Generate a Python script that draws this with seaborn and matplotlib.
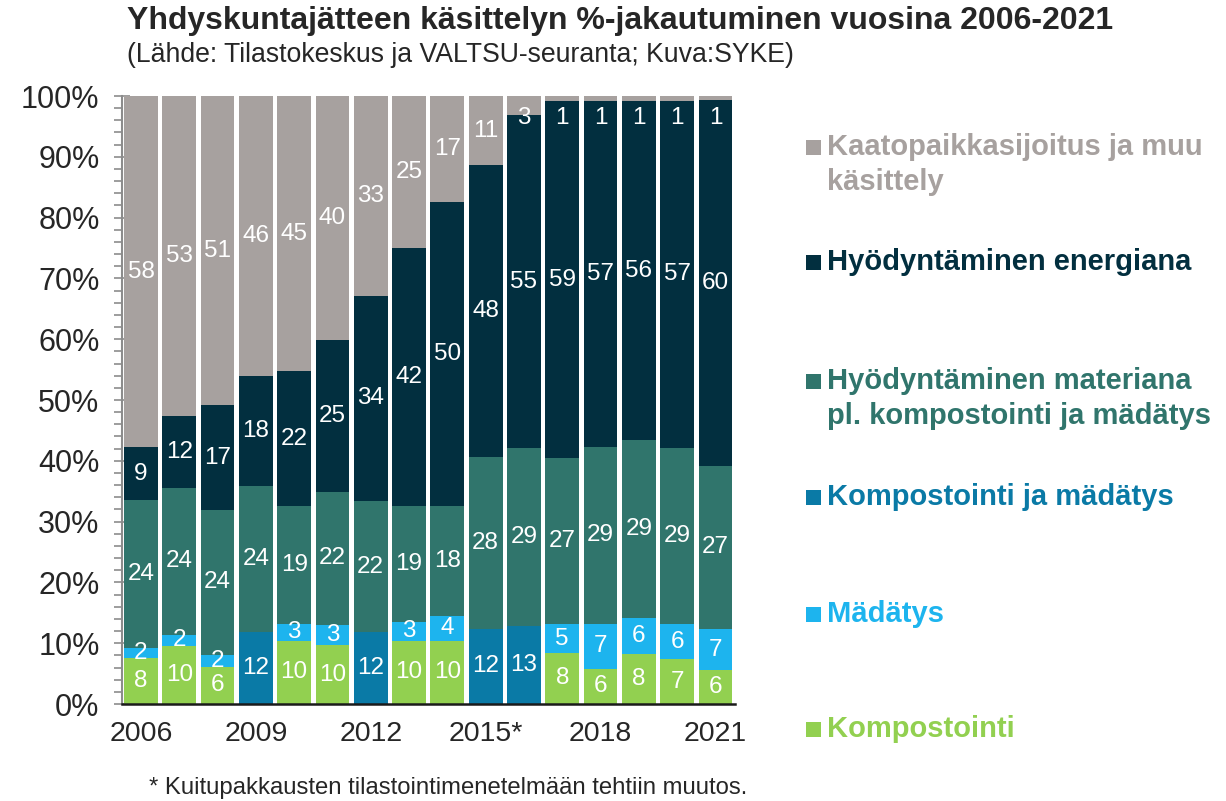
import matplotlib
matplotlib.use("Agg")
import matplotlib.pyplot as plt
from matplotlib.patches import Rectangle
from matplotlib.ticker import MultipleLocator
import seaborn as sns

# values (% of municipal waste)
years = ["2006", "2007", "2008", "2009", "2010", "2011", "2012", "2013",
         "2014", "2015", "2016", "2017", "2018", "2019", "2020", "2021"]
year_ticks = ["2006", "2009", "2012", "2015*", "2018", "2021"]
kompostointi = [7.6, 9.6, 6.1, 0, 10.4, 9.7, 0, 10.4, 10.4, 0, 0, 8.4, 5.8, 8.2, 7.4, 5.6]
madatys = [1.6, 1.7, 2.0, 0, 2.8, 3.3, 0, 3.1, 4.1, 0, 0, 4.7, 7.4, 5.9, 5.7, 6.7]
komp_ja_mad = [0, 0, 0, 11.9, 0, 0, 11.8, 0, 0, 12.4, 12.8, 0, 0, 0, 0, 0]
materiana = [24.4, 24.3, 23.8, 24.0, 19.4, 21.9, 21.6, 19.1, 18.1, 28.2, 29.3, 27.4, 29.1, 29.3, 29.0, 26.9]
energiana = [8.6, 11.7, 17.2, 18.0, 22.1, 24.9, 33.7, 42.4, 50.0, 48.0, 54.7, 58.6, 56.9, 55.7, 57.1, 60.1]
kaatopaikka = [57.8, 52.7, 50.9, 46.1, 45.3, 40.2, 32.9, 25.0, 17.4, 11.4, 3.2, 0.9, 0.8, 0.9, 0.8, 0.7]

series = [
    (["Kompostointi"], kompostointi, "#92D050"),
    (["Mädätys"], madatys, "#1DB4EE"),
    (["Kompostointi ja mädätys"], komp_ja_mad, "#0A7AA6"),
    (["Hyödyntäminen materiana", "pl. kompostointi ja mädätys"], materiana, "#30756C"),
    (["Hyödyntäminen energiana"], energiana, "#022F3F"),
    (["Kaatopaikkasijoitus ja muu", "käsittely"], kaatopaikka, "#A7A19F"),
]

sns.set_style("white")
plt.rcParams["font.family"] = ["Liberation Sans", "DejaVu Sans"]

W, H = 1226, 801
fig = plt.figure(figsize=(W / 100, H / 100), dpi=100)
ax = fig.add_axes([121.8 / W, (H - 704) / H, (734.6 - 121.8) / W, (704 - 96) / H])

# cumulative tops, drawn from the highest layer down so lower layers sit on top
bottoms = []
running = [0.0] * len(years)
for _, vals, _ in series:
    bottoms.append(list(running))
    running = [r + v for r, v in zip(running, vals)]

for i in range(len(series) - 1, -1, -1):
    label, vals, color = series[i]
    tops = [b + v for b, v in zip(bottoms[i], vals)]
    sns.barplot(x=years, y=tops, color=color, saturation=1, width=0.88,
                linewidth=0, ax=ax)

# value labels
for i, (label, vals, color) in enumerate(series):
    for j, v in enumerate(vals):
        if v <= 0:
            continue
        yc = min(bottoms[i][j] + v / 2, 96.3)
        ax.text(j, yc, f"{round(v)}", ha="center", va="center",
                color="white", fontsize=17.5)

ax.set_ylim(0, 100)
ax.set_xlim(-0.5, 15.5)
ax.set_xticks([0, 3, 6, 9, 12, 15])
ax.set_xticklabels(year_ticks)
ax.set_yticks(range(0, 101, 10))
ax.set_yticklabels([f"{t}%" for t in range(0, 101, 10)])
ax.yaxis.set_minor_locator(MultipleLocator(2))
ax.tick_params(axis="y", which="major", direction="inout", length=12,
               width=1.2, color="#8C8C8C", labelsize=22, pad=10, left=True)
ax.tick_params(axis="y", which="minor", direction="out", length=5.5,
               width=1.2, color="#8C8C8C", left=True)
ax.tick_params(axis="x", length=0, labelsize=20.5, pad=12)
ax.set_xlabel("")
ax.set_ylabel("")
for s in ["top", "right"]:
    ax.spines[s].set_visible(False)
ax.spines["left"].set_color("#8C8C8C")
ax.spines["left"].set_linewidth(1.5)
ax.spines["bottom"].set_color("#1A1A1A")
ax.spines["bottom"].set_linewidth(1.8)

# titles and footnote
fig.text(127 / W, 1 - 29 / H, "Yhdyskuntajätteen käsittelyn %-jakautuminen vuosina 2006-2021",
         fontsize=23, fontweight="bold", ha="left", va="baseline")
fig.text(127 / W, 1 - 62 / H, "(Lähde: Tilastokeskus ja VALTSU-seuranta; Kuva:SYKE)",
         fontsize=19.2, ha="left", va="baseline")
fig.text(149 / W, 1 - 794 / H, "* Kuitupakkausten tilastointimenetelmään tehtiin muutos.",
         fontsize=17.2, ha="left", va="baseline")

# legend drawn by hand to keep the uneven spacing of the original
legend_tops = [722, 606.5, 490, 374, 255, 140]
for (lines, _, color), top in zip(series, legend_tops):
    fig.add_artist(Rectangle((806 / W, 1 - (top + 15) / H), 15 / W, 15 / H,
                             transform=fig.transFigure, color=color, lw=0))
    for k, line in enumerate(lines):
        fig.text(827 / W, 1 - (top + 15 + 35 * k) / H, line, color=color,
                 fontsize=21, fontweight="bold", ha="left", va="baseline")

fig.savefig("out.png", dpi=100)
